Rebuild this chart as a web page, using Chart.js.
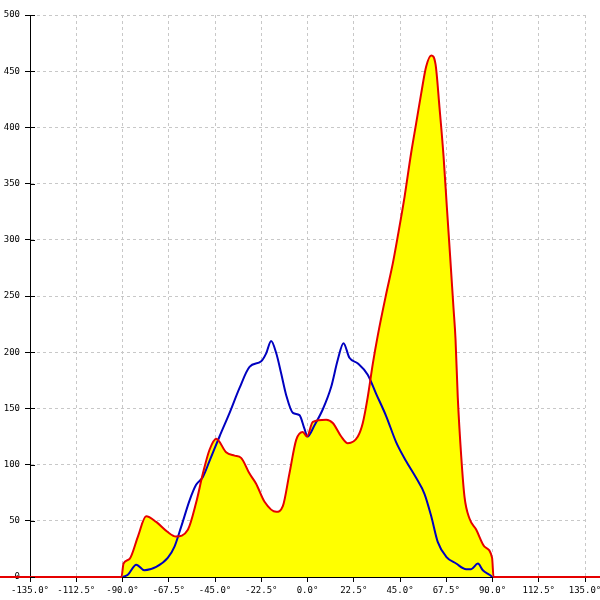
<!DOCTYPE html>
<html>
<head>
<meta charset="utf-8">
<style>
  html, body { margin: 0; padding: 0; background: #fff; }
  #wrap { width: 600px; height: 600px; }
</style>
<script src="https://cdn.jsdelivr.net/npm/chart.js@4"></script>
</head>
<body>
<div id="wrap"><canvas id="myChart" width="600" height="600"></canvas></div>
<script>
// Angles (deg) and values
const redAngles = [-180, -90.5, -89.5, -86.6, -82.5, -78.5, -73.6, -68, -64, -58.2, -54.2, -50.9, -47.7, -44.4,
  -39.6, -35.5, -32.3, -28.2, -25, -20.9, -15.2, -12, -8.8, -5.5, -2.3, -0.3, 2.6, 9.1, 12.3, 16.4, 19.6,
  24.5, 26.9, 29.3, 31.8, 34.2, 38.3, 41.5, 43.9, 47.2, 50.4, 52.9, 55.3, 57.7, 60.2, 62.3, 64.2, 66.2,
  67.8, 69.4, 71, 72, 73.1, 74.8, 76.4, 78.8, 82.1, 86.1, 89.8, 90.5, 180];
const redValues = [0, 0, 12, 16, 36, 54, 49, 40, 36, 42, 66, 92, 113, 123,
  111, 108, 106, 92, 83, 67, 58, 63, 92, 122, 129, 125, 138, 140, 137, 125, 119,
  125, 137, 160, 190, 215, 252, 279, 303, 338, 377, 404, 430, 454, 464, 456, 418, 374,
  329, 285, 240, 212, 160, 107, 71, 52, 42, 27, 17, 0, 0];

const blueAngles = [-90, -87.4, -83.3, -79.3, -73.6, -68, -64.7, -61.4, -57.4, -54.2, -50.9, -47.7, -42.8,
  -37.9, -33.1, -28.2, -22.5, -20.1, -17.7, -15.2, -12.8, -10.4, -7.1, -3.9, -1.5, 0, 3.4, 7.4, 11.5,
  14.7, 17.5, 20.4, 24.5, 29.3, 33.4, 38.3, 43.1, 48, 52.9, 56.9, 60.2, 63.4, 67.5, 72.3, 77.2, 79.6,
  82.9, 85.3, 88.5, 90];
const blueValues = [0, 2, 11, 6, 9, 17, 27, 45, 68, 82, 89, 103, 125,
  146, 168, 187, 192, 199, 210, 199, 181, 162, 146, 144, 132, 125, 135, 149, 169,
  193, 208, 195, 190, 180, 163, 143, 120, 103, 88, 74, 54, 31, 18, 12, 7, 7,
  12, 6, 2, 0];

const xMin = -135, xMax = 135, xStep = 22.5;
const yMin = 0, yMax = 500, yStep = 50;

const toPoints = (xs, ys) => xs.map((x, i) => ({ x: x, y: ys[i] }));

// short tick marks on the inner side of the y axis
const innerTicks = {
  id: 'innerTicks',
  afterDraw(chart) {
    const c = chart.ctx, y = chart.scales.y, left = chart.chartArea.left;
    c.save();
    c.strokeStyle = '#000';
    c.lineWidth = 1;
    y.ticks.forEach(t => {
      const py = Math.round(y.getPixelForValue(t.value)) + 0.5;
      c.beginPath();
      c.moveTo(left, py);
      c.lineTo(left + 5, py);
      c.stroke();
    });
    c.restore();
  }
};

const ctx = document.getElementById('myChart');

new Chart(ctx, {
  type: 'line',
  data: {
    datasets: [
      {
        data: toPoints(redAngles, redValues),
        borderColor: '#e60000',
        backgroundColor: '#ffff00',
        borderWidth: 2,
        fill: 'origin',
        pointRadius: 0,
        cubicInterpolationMode: 'monotone',
        clip: false
      },
      {
        data: toPoints(blueAngles, blueValues),
        borderColor: '#0000c0',
        borderWidth: 2,
        fill: false,
        pointRadius: 0,
        cubicInterpolationMode: 'monotone'
      }
    ]
  },
  options: {
    responsive: false,
    animation: false,
    layout: { padding: { top: 15, right: 15, left: 0, bottom: 0 } },
    plugins: {
      legend: { display: false },
      tooltip: { enabled: false },
      filler: { drawTime: 'beforeDatasetsDraw' }
    },
    scales: {
      x: {
        type: 'linear',
        min: xMin,
        max: xMax,
        afterFit: s => { s.height = 23; s.paddingLeft = 0; s.paddingRight = 0; },
        afterBuildTicks: s => {
          s.ticks = [];
          for (let v = xMin; v <= xMax + 0.001; v += xStep) s.ticks.push({ value: v });
        },
        ticks: {
          color: '#000',
          font: { family: 'DejaVu Sans Mono', size: 9 },
          padding: 3,
          maxRotation: 0,
          autoSkip: false,
          callback: v => v.toFixed(1) + '°'
        },
        grid: { color: '#c8c8c8', tickColor: '#000', tickLength: 5, tickBorderDash: [] },
        border: { color: '#000', width: 1, dash: [3, 3] }
      },
      y: {
        min: yMin,
        max: yMax,
        afterFit: s => { s.width = 30; s.paddingTop = 0; s.paddingBottom = 0; },
        ticks: {
          stepSize: yStep,
          color: '#000',
          font: { family: 'DejaVu Sans Mono', size: 9 },
          padding: 5
        },
        grid: { color: '#c8c8c8', tickColor: '#000', tickLength: 5, tickBorderDash: [] },
        border: { color: '#000', width: 1, dash: [3, 3] }
      }
    }
  },
  plugins: [innerTicks]
});
</script>
</body>
</html>
